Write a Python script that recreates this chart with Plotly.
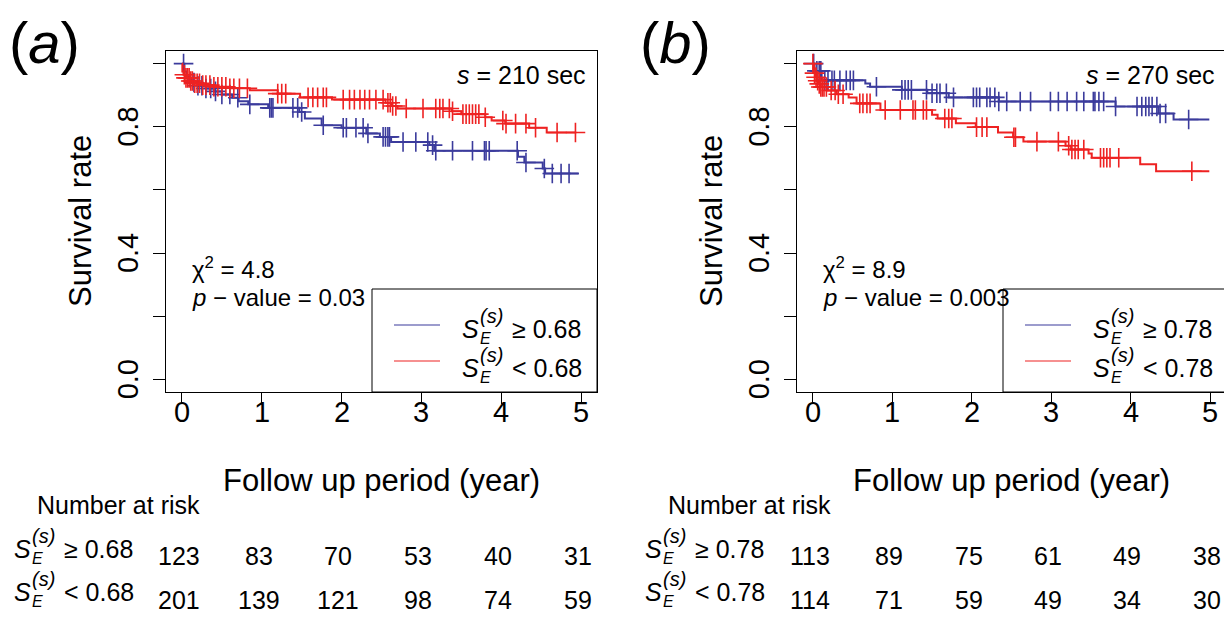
import plotly.graph_objects as go
import numpy as np

# window is 1232x618; the page body has an 8px margin, so the figure starts at (8, 8)
WIN_W, WIN_H = 1232, 618
PAD = 8
FW, FH = WIN_W - PAD, WIN_H - PAD

# ---------------- data ----------------
years = [0, 1, 2, 3, 4, 5]
surv_ticks = [0, 0.2, 0.4, 0.6, 0.8, 1.0]
surv_labels = ["0.0", "", "0.4", "", "0.8", ""]

# panel (a): s = 210 sec, threshold 0.68
a_hi_times = [0, 0.03, 0.06, 0.09, 0.13, 0.2, 0.3, 0.4, 0.5, 0.63, 0.71, 0.83, 1.08, 1.47, 1.54,
              1.75, 2.0, 2.31, 2.48, 2.62, 3.1, 3.16, 4.21, 4.29, 4.52, 4.55]
a_hi_surv = [1.0, 0.975, 0.96, 0.948, 0.94, 0.93, 0.921, 0.912, 0.902, 0.892, 0.881, 0.871, 0.86, 0.847, 0.826,
             0.805, 0.797, 0.779, 0.768, 0.752, 0.742, 0.724, 0.705, 0.687, 0.668, 0.652]
a_hi_end = 4.97
a_hi_cens = [0.02, 0.15, 0.2, 0.25, 0.3, 0.36, 0.42, 0.5, 0.6, 0.7, 0.85, 1.1, 1.12, 1.14, 1.39, 1.45, 1.5,
             1.77, 2.02, 2.06, 2.18, 2.27, 2.33, 2.52, 2.55, 2.58, 2.6, 2.77, 2.93, 3.08, 3.14, 3.18, 3.39,
             3.64, 3.79, 3.81, 3.85, 4.2, 4.31, 4.54, 4.64, 4.75, 4.85]

a_lo_times = [0, 0.005, 0.02, 0.05, 0.1, 0.16, 0.25, 0.4, 0.6, 0.85, 1.2, 1.48, 1.88, 2.55, 2.63, 2.7,
              3.38, 3.5, 3.8, 3.88, 4.05, 4.35, 4.57]
a_lo_surv = [1.0, 0.975, 0.965, 0.955, 0.945, 0.938, 0.932, 0.927, 0.922, 0.916, 0.905, 0.893, 0.886, 0.876,
             0.866, 0.858, 0.849, 0.84, 0.83, 0.82, 0.81, 0.797, 0.782]
a_lo_end = 4.94
a_lo_cens = [0.03, 0.05, 0.07, 0.09, 0.11, 0.13, 0.16, 0.19, 0.22, 0.26, 0.3, 0.35, 0.4, 0.45, 0.5, 0.55,
             0.6, 0.65, 0.72, 0.82, 1.2, 1.25, 1.3, 1.58, 1.64, 1.7, 1.77, 1.81, 2.02, 2.1, 2.16, 2.23, 2.29,
             2.35, 2.43, 2.52, 2.58, 2.61, 2.64, 2.68, 2.81, 3.02, 3.18, 3.23, 3.27, 3.35, 3.39, 3.52, 3.56,
             3.6, 3.64, 3.68, 3.72, 3.8, 4.02, 4.06, 4.18, 4.31, 4.43, 4.7, 4.93]

# panel (b): s = 270 sec, threshold 0.78
b_hi_times = [0, 0.02, 0.11, 0.66, 0.72, 1.12, 1.44, 1.71, 2.34, 3.81, 4.35, 4.54]
b_hi_surv = [1.0, 0.977, 0.947, 0.937, 0.927, 0.917, 0.906, 0.893, 0.88, 0.864, 0.842, 0.823]
b_hi_end = 4.99
b_hi_cens = [0.01, 0.05, 0.08, 0.1, 0.15, 0.19, 0.24, 0.27, 0.34, 0.42, 0.47, 0.51, 0.8, 1.12, 1.16, 1.2,
             1.24, 1.43, 1.5, 1.56, 1.6, 1.68, 1.77, 2.02, 2.06, 2.1, 2.19, 2.23, 2.29, 2.34, 2.44, 2.61,
             2.74, 2.99, 3.09, 3.2, 3.32, 3.41, 3.53, 3.55, 3.6, 3.66, 3.81, 4.08, 4.14, 4.19, 4.23, 4.27,
             4.33, 4.37, 4.44, 4.73]

b_lo_times = [0, 0.01, 0.02, 0.035, 0.05, 0.07, 0.1, 0.18, 0.3, 0.45, 0.55, 0.85, 1.5, 1.57, 1.8, 2.05,
              2.33, 2.52, 2.65, 3.18, 3.25, 3.47, 3.51, 4.12, 4.32]
b_lo_surv = [1.0, 0.985, 0.97, 0.957, 0.946, 0.936, 0.926, 0.915, 0.903, 0.893, 0.874, 0.853, 0.838, 0.826,
             0.811, 0.799, 0.782, 0.767, 0.753, 0.74, 0.728, 0.715, 0.702, 0.681, 0.659]
b_lo_end = 4.99
b_lo_cens = [0.0, 0.02, 0.04, 0.06, 0.08, 0.1, 0.12, 0.14, 0.17, 0.23, 0.28, 0.32, 0.38, 0.59, 0.63, 0.68,
             0.72, 0.91, 1.1, 1.26, 1.29, 1.39, 1.43, 1.66, 1.71, 1.75, 2.06, 2.13, 2.19, 2.53, 2.55, 2.82,
             3.09, 3.22, 3.26, 3.3, 3.34, 3.41, 3.62, 3.66, 3.7, 3.74, 3.85, 4.77]

a_risk_hi = [123, 83, 70, 53, 40, 31]
a_risk_lo = [201, 139, 121, 98, 74, 59]
b_risk_hi = [113, 89, 75, 61, 49, 38]
b_risk_lo = [114, 71, 59, 49, 34, 30]

a_thr, b_thr = "0.68", "0.78"
a_s, b_s = "210", "270"
a_chi, b_chi = "4.8", "8.9"
a_p, b_p = "0.03", "0.003"

BLUE = "#3B3B9C"
RED = "#EE2222"
FONT = "Arial, Liberation Sans, sans-serif"

# ---------------- figure ----------------
fig = go.Figure()


def step_xy(times, surv, end):
    return list(times) + [end], list(surv) + [surv[-1]]


def surv_at(times, surv, t):
    idx = np.searchsorted(np.array(times), t, side="right") - 1
    return surv[max(idx, 0)]


def add_curve(times, surv, end, cens, color, xa, ya):
    x, y = step_xy(times, surv, end)
    fig.add_trace(go.Scatter(x=x, y=y, mode="lines", line=dict(color=color, width=2, shape="hv"),
                             xaxis=xa, yaxis=ya, showlegend=False, hoverinfo="skip"))
    cy = [surv_at(times, surv, t) for t in cens]
    fig.add_trace(go.Scatter(x=cens, y=cy, mode="markers",
                             marker=dict(symbol="cross-thin", size=14, line=dict(color=color, width=1.6)),
                             xaxis=xa, yaxis=ya, showlegend=False, hoverinfo="skip"))


add_curve(a_hi_times, a_hi_surv, a_hi_end, a_hi_cens, BLUE, "x", "y")
add_curve(a_lo_times, a_lo_surv, a_lo_end, a_lo_cens, RED, "x", "y")
add_curve(b_hi_times, b_hi_surv, b_hi_end, b_hi_cens, BLUE, "x2", "y2")
add_curve(b_lo_times, b_lo_surv, b_lo_end, b_lo_cens, RED, "x2", "y2")

# panel frames in window pixels
A_L, A_R = 166, 597
B_L, B_R = 797, 1226
TOP, BOT = 51, 392


def px(x):
    return (x - PAD) / FW


def py(y):
    return 1 - (y - PAD) / FH


axis_common = dict(showline=True, mirror=True, linecolor="black", linewidth=1, showgrid=False,
                   zeroline=False, ticks="outside", tickcolor="black", tickwidth=1, showticklabels=False)

xcfg = dict(range=[-0.2, 5.2], tickvals=years, ticklen=11, **axis_common)
ycfg = dict(range=[-0.04, 1.04], tickvals=surv_ticks, ticklen=12, **axis_common)

fig.update_layout(
    width=FW, height=FH, margin=dict(l=0, r=0, t=0, b=0),
    paper_bgcolor="white", plot_bgcolor="white", showlegend=False,
    xaxis=dict(domain=[px(A_L), px(A_R)], anchor="y", **xcfg),
    yaxis=dict(domain=[py(BOT), py(TOP)], anchor="x", **ycfg),
    xaxis2=dict(domain=[px(B_L), px(B_R)], anchor="y2", **xcfg),
    yaxis2=dict(domain=[py(BOT), py(TOP)], anchor="x2", **ycfg),
)

anns = []


def ann(x, y, text, size, xanchor="left", yanchor="middle", xref="paper", yref="paper", textangle=0):
    anns.append(dict(x=x if xref != "paper" else px(x), y=y if yref != "paper" else py(y),
                     xref=xref, yref=yref, text=text,
                     showarrow=False, xanchor=xanchor, yanchor=yanchor, textangle=textangle,
                     font=dict(family=FONT, size=size, color="black")))


def se_label(x0, y0, rel, size):
    ann(x0, y0, "<i>S</i>", size)
    ann(x0 + 0.7 * size, y0 - 0.52 * size, "<i>(s)</i>", round(0.78 * size))
    ann(x0 + 0.72 * size, y0 + 0.38 * size, "<i>E</i>", round(0.62 * size))
    ann(x0 + 2.0 * size, y0, rel, size)


shapes = []
for (L, R, xa, ya, tag, s_val, chi, pv, thr, r_hi, r_lo) in [
        (A_L, A_R, "x", "y", "a", a_s, a_chi, a_p, a_thr, a_risk_hi, a_risk_lo),
        (B_L, B_R, "x2", "y2", "b", b_s, b_chi, b_p, b_thr, b_risk_hi, b_risk_lo)]:
    off = L - A_L
    # panel letter
    ann(7 + off, 43, "(<i>%s</i>)" % tag, 58)
    # tick labels
    for v in years:
        ann(v, 412, str(v), 29, xanchor="center", xref=xa)
    for v, lab in zip(surv_ticks, surv_labels):
        if lab:
            ann(128 + off, v, lab, 29, xanchor="center", yref=ya, textangle=-90)
    # axis titles
    ann((L + R) / 2, 480, "Follow up period (year)", 31, xanchor="center")
    ann(80 + off, 221, "Survival rate", 31, xanchor="center", textangle=-90)
    # inside texts
    ann(R - 9, 75, "<i>s</i> = %s sec" % s_val, 25, xanchor="right")
    ann(190 + off, 268, "χ<sup>2</sup> = %s" % chi, 24)
    ann(190 + off, 297, "<i>p</i> − value = %s" % pv, 24)
    # legend box
    shapes.append(dict(type="rect", xref="paper", yref="paper", x0=px(372 + off), x1=px(R),
                       y0=py(BOT), y1=py(289), line=dict(color="black", width=1), fillcolor="white",
                       layer="above"))
    shapes.append(dict(type="line", xref="paper", yref="paper", x0=px(394 + off), x1=px(440 + off),
                       y0=py(325), y1=py(325), line=dict(color=BLUE, width=1.2)))
    shapes.append(dict(type="line", xref="paper", yref="paper", x0=px(394 + off), x1=px(440 + off),
                       y0=py(361), y1=py(361), line=dict(color=RED, width=1.2)))
    se_label(460 + off, 329, "≥ " + thr, 25)
    se_label(460 + off, 368, "&lt; " + thr, 25)
    # number at risk
    ann(35 + off, 505, "Number at risk", 25)
    se_label(12 + off, 549, "≥ " + thr, 25)
    se_label(12 + off, 592, "&lt; " + thr, 25)
    for v, n1, n2 in zip(years, r_hi, r_lo):
        ann(v - 0.04, 556, str(n1), 25, xanchor="center", xref=xa)
        ann(v - 0.04, 600, str(n2), 25, xanchor="center", xref=xa)

fig.update_layout(annotations=anns, shapes=shapes)
fig.write_html("out.html")
